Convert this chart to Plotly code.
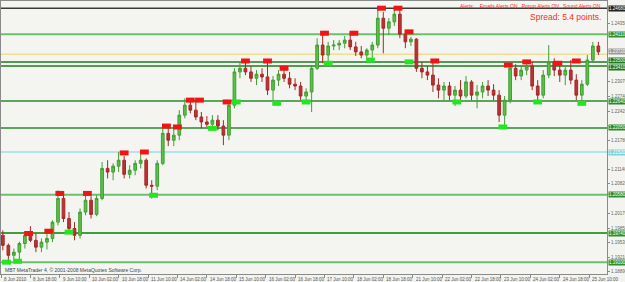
import plotly.graph_objects as go

# ---------------- data ----------------
tick_hours = [0, 16, 32, 48, 64, 80, 96, 112, 128, 144, 160, 176, 192, 208, 224, 240, 256, 272, 288, 304, 320]
tick_text = ["8 Jun 2010", "8 Jun 18:00", "9 Jun 10:00", "10 Jun 02:00", "10 Jun 18:00", "11 Jun 10:00",
             "14 Jun 02:00", "14 Jun 18:00", "15 Jun 10:00", "16 Jun 02:00", "16 Jun 18:00", "17 Jun 10:00",
             "18 Jun 02:00", "18 Jun 18:00", "21 Jun 10:00", "22 Jun 02:00", "22 Jun 18:00", "23 Jun 10:00",
             "24 Jun 02:00", "24 Jun 18:00", "25 Jun 10:00"]

open_ = [1.1969, 1.1947, 1.1925, 1.1932, 1.1951, 1.1969, 1.1958, 1.1943, 1.1954, 1.1962, 1.1998, 1.2050,
         1.2006, 1.1984, 1.1969, 1.2020, 1.2046, 1.2015, 1.2050, 1.2116, 1.2108, 1.2121, 1.2134, 1.2103,
         1.2112, 1.2127, 1.2134, 1.2079, 1.2077, 1.2127, 1.2193, 1.2178, 1.2189, 1.2233, 1.2255, 1.2244,
         1.2229, 1.2218,
         1.2213, 1.2222, 1.2209, 1.2189, 1.2255, 1.2328, 1.2336, 1.2328, 1.2314, 1.2323, 1.2317, 1.2288,
         1.2310, 1.2323, 1.2314, 1.2301, 1.2297, 1.2275, 1.2284, 1.2336, 1.2387, 1.2365, 1.2385, 1.2387,
         1.2391, 1.2398, 1.2383, 1.2372, 1.2365, 1.2376, 1.2387, 1.2446, 1.2424, 1.2438, 1.2455, 1.2411,
         1.2394,
         1.2400, 1.2336, 1.2328, 1.2321, 1.2299, 1.2288, 1.2297, 1.2277, 1.2288, 1.2275, 1.2306, 1.2277,
         1.2284, 1.2297, 1.2288, 1.2277, 1.2233, 1.2266, 1.2336, 1.2319, 1.2332, 1.2341, 1.2297, 1.2277,
         1.2321, 1.2350, 1.2332, 1.2321, 1.2332, 1.2310, 1.2277, 1.2301, 1.2354, 1.2385]

high = [1.1980, 1.1951, 1.1940, 1.1955, 1.1976, 1.1989, 1.1973, 1.1962, 1.1976, 1.2002, 1.2068, 1.2057,
        1.2020, 1.1998, 1.2028, 1.2064, 1.2055, 1.2057, 1.2130, 1.2134, 1.2127, 1.2152, 1.2143, 1.2123,
        1.2134, 1.2154, 1.2138, 1.2090, 1.2134, 1.2211, 1.2204, 1.2209, 1.2244, 1.2270, 1.2268, 1.2266,
        1.2240, 1.2231,
        1.2233, 1.2233, 1.2222, 1.2266, 1.2336, 1.2350, 1.2354, 1.2341, 1.2332, 1.2336, 1.2354, 1.2319,
        1.2332, 1.2341, 1.2328, 1.2314, 1.2306, 1.2292, 1.2343, 1.2402, 1.2413, 1.2394, 1.2398, 1.2398,
        1.2407, 1.2416, 1.2394, 1.2385, 1.2380, 1.2394, 1.2468, 1.2460, 1.2446, 1.2471, 1.2464, 1.2420,
        1.2405,
        1.2402, 1.2350, 1.2341, 1.2354, 1.2314, 1.2306, 1.2306, 1.2297, 1.2310, 1.2319, 1.2310, 1.2299,
        1.2306, 1.2310, 1.2301, 1.2288, 1.2275, 1.2350, 1.2345, 1.2343, 1.2354, 1.2350, 1.2310, 1.2332,
        1.2387, 1.2358, 1.2350, 1.2343, 1.2354, 1.2323, 1.2310, 1.2365, 1.2394, 1.2394]

low = [1.1936, 1.1910, 1.1914, 1.1914, 1.1940, 1.1954, 1.1932, 1.1932, 1.1938, 1.1954, 1.1991, 1.1998,
       1.1973, 1.1958, 1.1962, 1.2013, 1.2006, 1.2011, 1.2046, 1.2094, 1.2090, 1.2108, 1.2094, 1.2094,
       1.2101, 1.2116, 1.2072, 1.2050, 1.2068, 1.2123, 1.2165, 1.2165, 1.2178, 1.2226, 1.2237, 1.2222,
       1.2204, 1.2207,
       1.2200, 1.2200, 1.2167, 1.2178, 1.2248, 1.2314, 1.2321, 1.2306, 1.2299, 1.2306, 1.2277, 1.2266,
       1.2297, 1.2306, 1.2292, 1.2288, 1.2266, 1.2259, 1.2240, 1.2332, 1.2347, 1.2350, 1.2376, 1.2376,
       1.2380, 1.2376, 1.2363, 1.2358, 1.2354, 1.2358, 1.2380, 1.2369, 1.2409, 1.2429, 1.2402, 1.2380,
       1.2385,
       1.2328, 1.2314, 1.2310, 1.2284, 1.2270, 1.2266, 1.2266, 1.2253, 1.2266, 1.2270, 1.2266, 1.2248,
       1.2270, 1.2275, 1.2266, 1.2218, 1.2211, 1.2259, 1.2310, 1.2310, 1.2321, 1.2288, 1.2266, 1.2270,
       1.2314, 1.2319, 1.2306, 1.2299, 1.2301, 1.2266, 1.2262, 1.2297, 1.2350, 1.2365]

close = [1.1947, 1.1925, 1.1932, 1.1951, 1.1969, 1.1958, 1.1943, 1.1954, 1.1962, 1.1998, 1.2050, 1.2006,
         1.1984, 1.1969, 1.2020, 1.2046, 1.2015, 1.2050, 1.2116, 1.2108, 1.2121, 1.2134, 1.2103, 1.2112,
         1.2127, 1.2134, 1.2079, 1.2077, 1.2127, 1.2193, 1.2178, 1.2189, 1.2233, 1.2255, 1.2244, 1.2229,
         1.2218, 1.2213,
         1.2222, 1.2209, 1.2189, 1.2255, 1.2328, 1.2336, 1.2328, 1.2314, 1.2323, 1.2317, 1.2288, 1.2310,
         1.2323, 1.2314, 1.2301, 1.2297, 1.2275, 1.2284, 1.2336, 1.2387, 1.2365, 1.2385, 1.2387, 1.2391,
         1.2398, 1.2383, 1.2372, 1.2365, 1.2376, 1.2387, 1.2446, 1.2424, 1.2438, 1.2455, 1.2411, 1.2394,
         1.2400,
         1.2336, 1.2328, 1.2321, 1.2299, 1.2288, 1.2297, 1.2277, 1.2288, 1.2275, 1.2306, 1.2277, 1.2284,
         1.2297, 1.2288, 1.2277, 1.2233, 1.2266, 1.2336, 1.2319, 1.2332, 1.2341, 1.2297, 1.2277, 1.2321,
         1.2350, 1.2332, 1.2321, 1.2332, 1.2310, 1.2277, 1.2301, 1.2354, 1.2385, 1.2372]

# bar time in trading hours since first label (3-hour bars)
bar_hour = [1 + 3 * j for j in range(len(close))]

# fractal markers (hour, price)
up_fractal_hour = [15, 26, 32, 47, 67, 78, 90, 96, 103, 108, 123, 133, 145, 154, 176, 192, 207, 216, 222, 236, 276, 286, 303, 313]
up_fractal_price = [1.1973, 1.1978, 1.2061, 1.2061, 1.2150, 1.2152, 1.2209, 1.2207, 1.2266, 1.2266, 1.2262, 1.2352,
                    1.2352, 1.2336, 1.2413, 1.2413, 1.2468, 1.2468, 1.2416, 1.2352, 1.2343, 1.2350, 1.2347, 1.2352]
down_fractal_hour = [3, 9, 37, 83, 115, 128, 150, 166, 178, 201, 222, 248, 273, 292, 316]
down_fractal_price = [1.1910, 1.1912, 1.1976, 1.2057, 1.2204, 1.2262, 1.2259, 1.2262, 1.2347, 1.2354, 1.2350,
                      1.2262, 1.2207, 1.2262, 1.2259]

# horizontal price levels
levels = [1.2468, 1.2411, 1.2367, 1.2350, 1.2341, 1.2264, 1.2205, 1.2152, 1.2058, 1.1974, 1.1910]
level_colors = ["#3a3a3a", "#6cbf6c", "#f2d45c", "#1f7a1f", "#1f7a1f", "#2a8a2a", "#2a8a2a",
                "#9adfe6", "#6cbf6c", "#3f9f3f", "#6cbf6c"]
level_widths = [1.5, 2, 1, 1.5, 1.5, 1.5, 1.5, 1.5, 2, 2, 2]
level_label_bg = ["#202020", "#2f8f2f", None, "#1f7a1f", "#1f7a1f", "#2a8a2a", "#2a8a2a",
                  "#7fd3dc", "#2f8f2f", "#2f8f2f", "#2f8f2f"]
level_label_shift = [0, 0, 0, 1.5, -1.5, 0, 0, 0, 0, 0, 0]

# price-scale ticks that are not hidden behind the coloured level labels
y_tick_vals = [1.18890, 1.19210, 1.19530, 1.19850, 1.20170, 1.20820, 1.21140,
               1.21780, 1.22420, 1.22740, 1.23070, 1.24350]

# ---------------- figure ----------------
fig = go.Figure()

fig.add_trace(go.Candlestick(
    x=bar_hour, open=open_, high=high, low=low, close=close,
    increasing=dict(line=dict(color="#3f9f34", width=1), fillcolor="#5cbf4a"),
    decreasing=dict(line=dict(color="#a82828", width=1), fillcolor="#b83434"),
    whiskerwidth=0, showlegend=False, hoverinfo="skip"))

HW = 2.4
ux, uy = [], []
for h, p in zip(up_fractal_hour, up_fractal_price):
    ux += [h - HW, h + HW, None]
    uy += [p, p, None]
dx, dy = [], []
for h, p in zip(down_fractal_hour, down_fractal_price):
    dx += [h - HW, h + HW, None]
    dy += [p, p, None]
fig.add_trace(go.Scatter(x=ux, y=uy, mode="lines", line=dict(color="#f01414", width=5),
                         showlegend=False, hoverinfo="skip"))
fig.add_trace(go.Scatter(x=dx, y=dy, mode="lines", line=dict(color="#22e622", width=5),
                         showlegend=False, hoverinfo="skip"))

shapes = []
annotations = []
for v, c, w, bg, sh in zip(levels, level_colors, level_widths, level_label_bg, level_label_shift):
    shapes.append(dict(type="line", xref="paper", x0=0, x1=1, yref="y", y0=v, y1=v,
                       line=dict(color=c, width=w), layer="below"))
    if bg:
        annotations.append(dict(xref="paper", x=1, xanchor="left", xshift=1, yref="y", y=v,
                                yanchor="middle", yshift=sh, text=f"{v:.5f}", showarrow=False,
                                bgcolor=bg, borderpad=0,
                                font=dict(size=4.5, color="#ffffff", family="Liberation Sans")))
# bid label
annotations.append(dict(xref="paper", x=1, xanchor="left", xshift=1, yref="y", y=close[-1],
                        yanchor="middle", text=f"{close[-1]:.5f}", showarrow=False,
                        bgcolor="#9a9a9a", borderpad=0,
                        font=dict(size=4.5, color="#ffffff", family="Liberation Sans")))

for h, t in zip(tick_hours, tick_text):
    annotations.append(dict(xref="x", x=h, xanchor="left", xshift=1, yref="paper", y=0,
                            yanchor="top", yshift=-1, text=t, showarrow=False,
                            font=dict(size=4.5, color="#555555", family="Liberation Sans")))

nb = "\u00a0"
annotations.append(dict(xref="paper", x=0.993, xanchor="right", yref="paper", y=0.982,
                        yanchor="middle", showarrow=False,
                        text=f"Alerts:{nb*4}Emails Alerts ON{nb*3}Popup Alerts ON{nb*3}Sound Alerts ON",
                        font=dict(size=5, color="#ff2a2a", family="Liberation Sans")))
annotations.append(dict(xref="paper", x=0.993, xanchor="right", yref="paper", y=0.941,
                        yanchor="middle", showarrow=False, text="Spread: 5.4 points.",
                        font=dict(size=8.5, color="#ff2a2a", family="Liberation Sans")))
annotations.append(dict(xref="paper", x=0.004, xanchor="left", yref="paper", y=0.015,
                        yanchor="middle", showarrow=False,
                        text="MBT MetaTrader 4, \u00a9 2001-2008 MetaQuotes Software Corp.",
                        font=dict(size=5, color="#444444", family="Liberation Sans")))

fig.update_layout(
    width=625, height=282,
    margin=dict(l=1, r=18, t=1, b=8),
    paper_bgcolor="#f3f3ef", plot_bgcolor="#f4f5f1",
    shapes=shapes, annotations=annotations,
    xaxis=dict(range=[0, 329.7], showgrid=False, zeroline=False, showline=True, linecolor="#8a8a8a",
               linewidth=1, mirror=True, ticks="outside", ticklen=3, tickcolor="#8a8a8a",
               tickvals=tick_hours, showticklabels=False, rangeslider=dict(visible=False),
               fixedrange=True, automargin=False),
    yaxis=dict(range=[1.18840, 1.24838], side="right", showgrid=False, zeroline=False, showline=True,
               linecolor="#8a8a8a", linewidth=1, mirror=True, ticks="outside", ticklen=2,
               tickcolor="#8a8a8a", tickvals=y_tick_vals, ticktext=[f"{v:.5f}" for v in y_tick_vals],
               tickfont=dict(size=4.5, color="#666666", family="Liberation Sans"), fixedrange=True,
               automargin=False),
)

fig.write_html("out.html")
